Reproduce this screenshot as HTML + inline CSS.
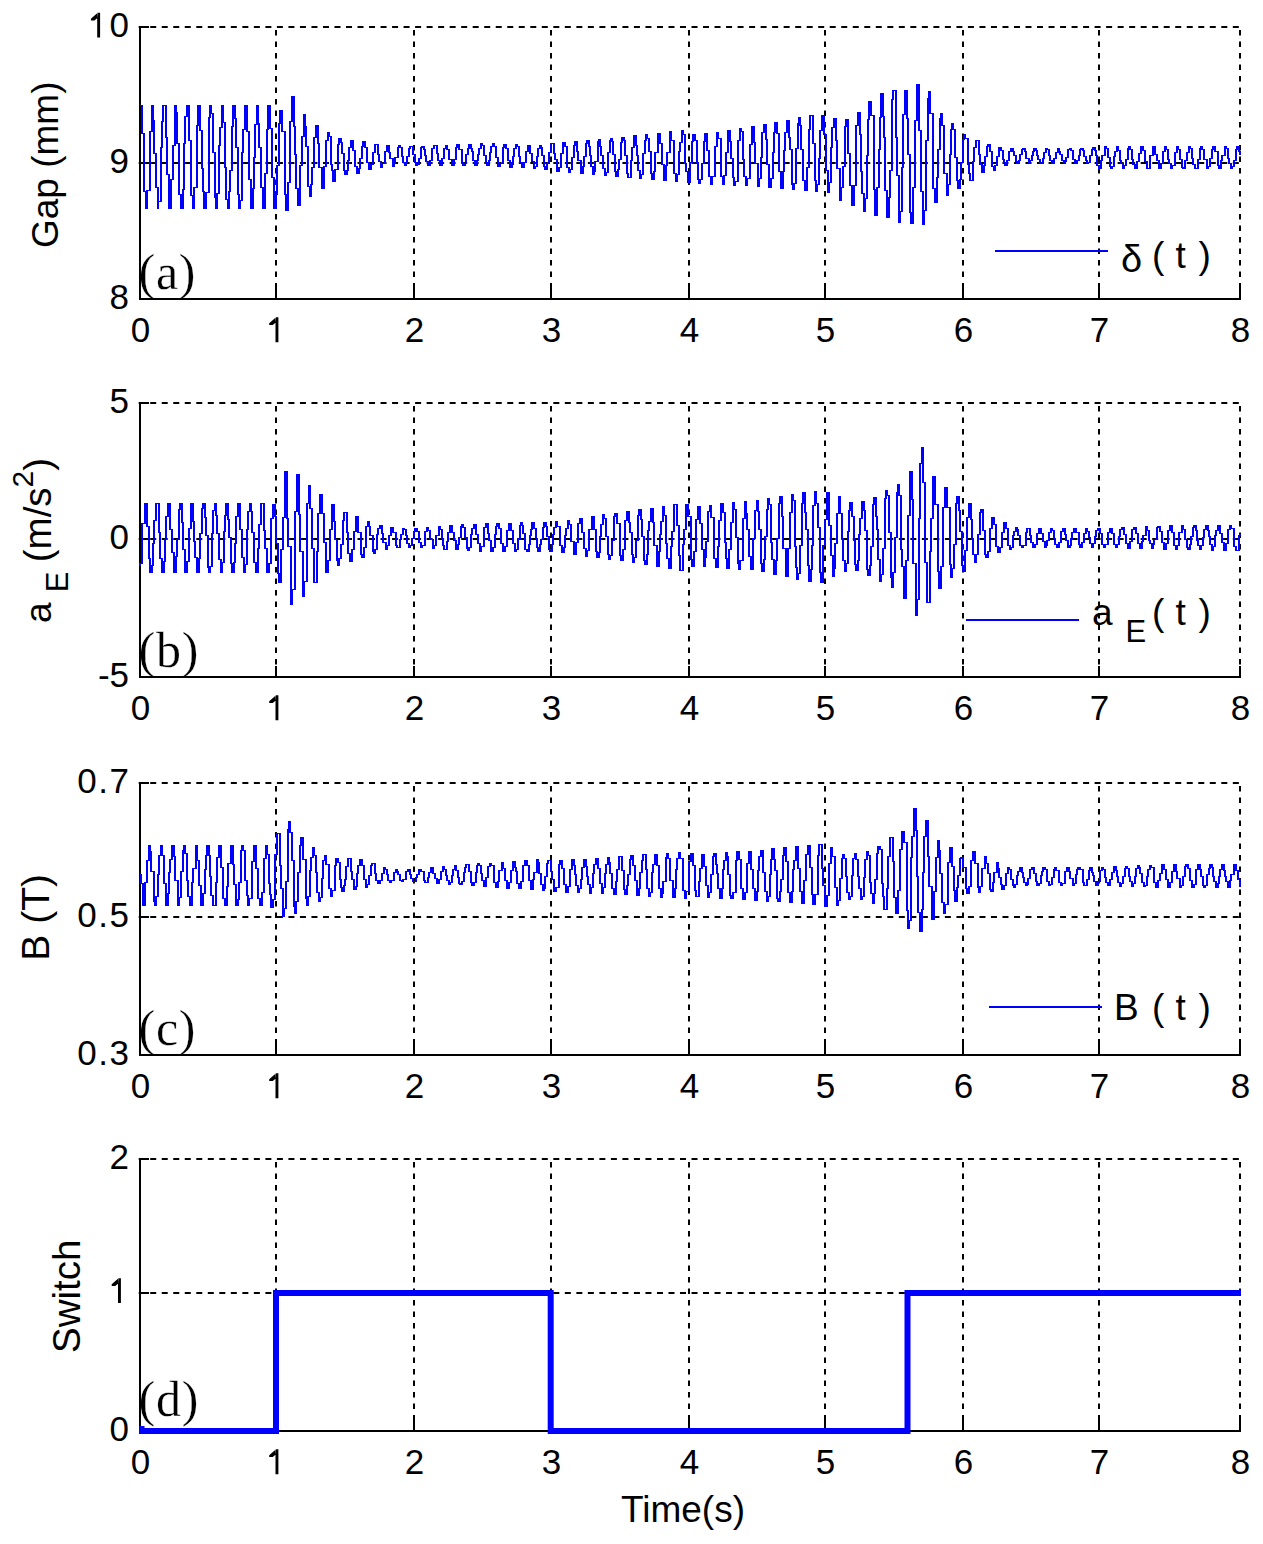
<!DOCTYPE html>
<html><head><meta charset="utf-8"><style>
html,body{margin:0;padding:0;background:#fff;overflow:hidden}
svg{display:block}
.g{stroke:#000;stroke-width:2;fill:none}
.gh{stroke-dasharray:6 5.517}
.gv{stroke-dasharray:5.6 5.9;stroke-dashoffset:8.5}
.ax{stroke:#000;stroke-width:2;fill:none}
.w{stroke:#00f;fill:none;stroke-linejoin:round;shape-rendering:crispEdges}
.tk{font-family:"Liberation Sans",sans-serif;font-size:35px;fill:#000}
.lb{font-family:"Liberation Sans",sans-serif;font-size:37px;fill:#000}
.pl{font-family:"Liberation Serif",serif;font-size:50px;fill:#000;stroke:#fff;stroke-width:0.3px}
</style></head><body>
<svg width="1263" height="1544" viewBox="0 0 1263 1544">
<rect width="1263" height="1544" fill="#fff"/>
<g><line x1="138.7" y1="27" x2="1241" y2="27" class="g gh"/><line x1="138.7" y1="163" x2="1241" y2="163" class="g gh"/><line x1="276" y1="27" x2="276" y2="299" class="g gv"/><line x1="414" y1="27" x2="414" y2="299" class="g gv"/><line x1="551" y1="27" x2="551" y2="299" class="g gv"/><line x1="689" y1="27" x2="689" y2="299" class="g gv"/><line x1="825" y1="27" x2="825" y2="299" class="g gv"/><line x1="963" y1="27" x2="963" y2="299" class="g gv"/><line x1="1099" y1="27" x2="1099" y2="299" class="g gv"/><line x1="1240" y1="27" x2="1240" y2="299" class="g gv"/></g>
<text class="pl" x="138.6" y="289" letter-spacing="0.7">(a)</text>
<path class="ax" d="M140 26 L140 299 L1241 299"/>
<path class="ax" d="M139 27 L149 27 M139 163 L149 163 M139 299 L149 299 M140 300 L140 288 M276 300 L276 288 M414 300 L414 288 M551 300 L551 288 M689 300 L689 288 M825 300 L825 288 M963 300 L963 288 M1099 300 L1099 288 M1240 300 L1240 288"/>
<text class="tk" x="140.5" y="342" text-anchor="middle">0</text>
<path d="M275.5 317.3H278.4V342.3H275.5ZM276.0 317.3L269.2 323.3V324.9H272.7L275.5 322.7Z" fill="#000"/>
<text class="tk" x="414.5" y="342" text-anchor="middle">2</text>
<text class="tk" x="551.5" y="342" text-anchor="middle">3</text>
<text class="tk" x="689.5" y="342" text-anchor="middle">4</text>
<text class="tk" x="825.5" y="342" text-anchor="middle">5</text>
<text class="tk" x="963.5" y="342" text-anchor="middle">6</text>
<text class="tk" x="1099.5" y="342" text-anchor="middle">7</text>
<text class="tk" x="1240.5" y="342" text-anchor="middle">8</text>
<path d="M97.2 12.8H100.1V37.6H97.2ZM97.7 12.8L90.9 18.8V20.4H94.4L97.2 18.2Z" fill="#000"/>
<text class="tk" x="129" y="36.7" text-anchor="end">0</text>
<text class="tk" x="129" y="172.7" text-anchor="end">9</text>
<text class="tk" x="129" y="308.7" text-anchor="end">8</text>
<g><line x1="138.7" y1="403" x2="1241" y2="403" class="g gh"/><line x1="138.7" y1="539" x2="1241" y2="539" class="g gh"/><line x1="276" y1="403" x2="276" y2="677" class="g gv"/><line x1="414" y1="403" x2="414" y2="677" class="g gv"/><line x1="551" y1="403" x2="551" y2="677" class="g gv"/><line x1="689" y1="403" x2="689" y2="677" class="g gv"/><line x1="825" y1="403" x2="825" y2="677" class="g gv"/><line x1="963" y1="403" x2="963" y2="677" class="g gv"/><line x1="1099" y1="403" x2="1099" y2="677" class="g gv"/><line x1="1240" y1="403" x2="1240" y2="677" class="g gv"/></g>
<text class="pl" x="138.6" y="667" letter-spacing="0.7">(b)</text>
<path class="ax" d="M140 402 L140 677 L1241 677"/>
<path class="ax" d="M139 403 L149 403 M139 539 L149 539 M139 677 L149 677 M140 678 L140 666 M276 678 L276 666 M414 678 L414 666 M551 678 L551 666 M689 678 L689 666 M825 678 L825 666 M963 678 L963 666 M1099 678 L1099 666 M1240 678 L1240 666"/>
<text class="tk" x="140.5" y="720" text-anchor="middle">0</text>
<path d="M275.5 695.3H278.4V720.3H275.5ZM276.0 695.3L269.2 701.3V702.9H272.7L275.5 700.7Z" fill="#000"/>
<text class="tk" x="414.5" y="720" text-anchor="middle">2</text>
<text class="tk" x="551.5" y="720" text-anchor="middle">3</text>
<text class="tk" x="689.5" y="720" text-anchor="middle">4</text>
<text class="tk" x="825.5" y="720" text-anchor="middle">5</text>
<text class="tk" x="963.5" y="720" text-anchor="middle">6</text>
<text class="tk" x="1099.5" y="720" text-anchor="middle">7</text>
<text class="tk" x="1240.5" y="720" text-anchor="middle">8</text>
<text class="tk" x="129" y="412.7" text-anchor="end">5</text>
<text class="tk" x="129" y="548.7" text-anchor="end">0</text>
<text class="tk" x="129" y="686.7" text-anchor="end">-5</text>
<g><line x1="138.7" y1="783" x2="1241" y2="783" class="g gh"/><line x1="138.7" y1="917" x2="1241" y2="917" class="g gh"/><line x1="276" y1="783" x2="276" y2="1055" class="g gv"/><line x1="414" y1="783" x2="414" y2="1055" class="g gv"/><line x1="551" y1="783" x2="551" y2="1055" class="g gv"/><line x1="689" y1="783" x2="689" y2="1055" class="g gv"/><line x1="825" y1="783" x2="825" y2="1055" class="g gv"/><line x1="963" y1="783" x2="963" y2="1055" class="g gv"/><line x1="1099" y1="783" x2="1099" y2="1055" class="g gv"/><line x1="1240" y1="783" x2="1240" y2="1055" class="g gv"/></g>
<text class="pl" x="138.6" y="1045" letter-spacing="0.7">(c)</text>
<path class="ax" d="M140 782 L140 1055 L1241 1055"/>
<path class="ax" d="M139 783 L149 783 M139 917 L149 917 M139 1055 L149 1055 M140 1056 L140 1044 M276 1056 L276 1044 M414 1056 L414 1044 M551 1056 L551 1044 M689 1056 L689 1044 M825 1056 L825 1044 M963 1056 L963 1044 M1099 1056 L1099 1044 M1240 1056 L1240 1044"/>
<text class="tk" x="140.5" y="1098" text-anchor="middle">0</text>
<path d="M275.5 1073.3H278.4V1098.3H275.5ZM276.0 1073.3L269.2 1079.3V1080.9H272.7L275.5 1078.7Z" fill="#000"/>
<text class="tk" x="414.5" y="1098" text-anchor="middle">2</text>
<text class="tk" x="551.5" y="1098" text-anchor="middle">3</text>
<text class="tk" x="689.5" y="1098" text-anchor="middle">4</text>
<text class="tk" x="825.5" y="1098" text-anchor="middle">5</text>
<text class="tk" x="963.5" y="1098" text-anchor="middle">6</text>
<text class="tk" x="1099.5" y="1098" text-anchor="middle">7</text>
<text class="tk" x="1240.5" y="1098" text-anchor="middle">8</text>
<text class="tk" x="130.5" y="792.7" text-anchor="end" letter-spacing="1.5">0.7</text>
<text class="tk" x="130.5" y="926.7" text-anchor="end" letter-spacing="1.5">0.5</text>
<text class="tk" x="130.5" y="1064.7" text-anchor="end" letter-spacing="1.5">0.3</text>
<g><line x1="138.7" y1="1159" x2="1241" y2="1159" class="g gh"/><line x1="138.7" y1="1293" x2="1241" y2="1293" class="g gh"/><line x1="276" y1="1159" x2="276" y2="1431" class="g gv"/><line x1="414" y1="1159" x2="414" y2="1431" class="g gv"/><line x1="551" y1="1159" x2="551" y2="1431" class="g gv"/><line x1="689" y1="1159" x2="689" y2="1431" class="g gv"/><line x1="825" y1="1159" x2="825" y2="1431" class="g gv"/><line x1="963" y1="1159" x2="963" y2="1431" class="g gv"/><line x1="1099" y1="1159" x2="1099" y2="1431" class="g gv"/><line x1="1240" y1="1159" x2="1240" y2="1431" class="g gv"/></g>
<text class="pl" x="138.6" y="1416" letter-spacing="0.7">(d)</text>
<path class="ax" d="M140 1158 L140 1431 L1241 1431"/>
<path class="ax" d="M139 1159 L149 1159 M139 1293 L149 1293 M139 1431 L149 1431 M140 1432 L140 1420 M276 1432 L276 1420 M414 1432 L414 1420 M551 1432 L551 1420 M689 1432 L689 1420 M825 1432 L825 1420 M963 1432 L963 1420 M1099 1432 L1099 1420 M1240 1432 L1240 1420"/>
<text class="tk" x="140.5" y="1474" text-anchor="middle">0</text>
<path d="M275.5 1449.3H278.4V1474.3H275.5ZM276.0 1449.3L269.2 1455.3V1456.9H272.7L275.5 1454.7Z" fill="#000"/>
<text class="tk" x="414.5" y="1474" text-anchor="middle">2</text>
<text class="tk" x="551.5" y="1474" text-anchor="middle">3</text>
<text class="tk" x="689.5" y="1474" text-anchor="middle">4</text>
<text class="tk" x="825.5" y="1474" text-anchor="middle">5</text>
<text class="tk" x="963.5" y="1474" text-anchor="middle">6</text>
<text class="tk" x="1099.5" y="1474" text-anchor="middle">7</text>
<text class="tk" x="1240.5" y="1474" text-anchor="middle">8</text>
<text class="tk" x="129" y="1168.7" text-anchor="end">2</text>
<path d="M118.0 1278.3H120.9V1303.0H118.0ZM118.5 1278.3L111.7 1284.3V1285.9H115.2L118.0 1283.7Z" fill="#000"/>
<text class="tk" x="129" y="1440.7" text-anchor="end">0</text>
<path class="w" transform="scale(2,1)" stroke-width="1" d="M70.0 105.5H71.0V133.5H72.0V191.5H73.0V208.5H73.5V190.5H75.0V131.5H76.0V105.5H76.5V120.5H77.0V153.5H78.0V187.5H79.0V208.5V201.5H80.5V147.5H81.0V121.5H81.5V105.5H83.0V137.5H83.5V174.5H84.5V208.5H85.5V179.5H86.5V145.5H87.5V105.5H88.0V112.5H88.5V143.5H89.5V194.5H90.5V208.5H91.5V189.5H92.0V143.5H92.5V116.5H93.5V105.5H94.5V140.5H95.5V195.5H96.5V208.5H97.0V187.5H98.5V125.5H99.0V105.5H100.0V130.5H101.0V168.5H101.5V191.5H102.0V208.5H103.0V192.5H104.5V117.5H105.0V105.5H105.5V113.5H106.5V152.5H107.5V197.5H108.0V208.5H108.5V193.5H109.5V145.5H110.0V127.5H111.0V105.5H111.5V122.5H112.5V167.5H113.0V199.5H114.0V208.5H114.5V191.5H115.0V170.5H116.0V126.5H116.5V105.5H117.5V118.5H118.0V147.5H119.0V194.5H119.5V208.5H120.0V200.5H121.0V152.5H121.5V129.5H122.5V105.5H123.5V131.5H124.5V179.5H125.5V208.5H126.5V188.5H127.0V157.5H127.5V124.5H128.5V105.5H129.0V123.5H129.5V147.5H130.5V187.5H131.5V208.5H132.5V173.5H133.5V129.5H134.0V105.5H135.0V128.5H136.0V177.5H137.0V208.5H138.0V194.5H138.5V165.5H139.5V123.5H140.0V110.5H141.0V131.5H142.5V194.5H143.0V210.5H144.0V182.5H145.0V121.5H146.0V96.5H147.0V126.5H147.5V154.5H148.0V188.5H149.0V205.5H150.0V165.5H151.0V136.5H152.0V114.5H152.5V126.5H153.0V146.5H154.0V186.5H155.0V196.5H155.5V184.5H156.0V167.5H157.0V137.5H158.0V125.5H159.0V143.5H159.5V167.5H161.0V188.5H162.0V166.5H163.0V140.5H164.0V132.5H164.5V136.5H165.5V164.5H166.0V170.5H166.5V181.5H167.5V169.5H169.0V144.5H169.5V138.5H170.5V142.5H171.0V153.5H172.0V170.5H172.5V174.5H173.5V170.5H174.0V160.5H174.5V147.5H175.5V140.5H176.5V150.5H177.5V166.5H178.5V173.5H179.5V168.5H180.0V158.5H181.0V146.5H181.5V141.5H182.5V147.5H183.5V162.5H184.5V169.5H185.5V164.5H186.5V152.5H187.5V144.5H189.0V154.5H189.5V161.5H190.5V167.5H191.0V163.5H192.5V151.5H193.5V145.5H194.5V152.5H195.0V158.5H196.5V166.5H197.0V163.5H197.5V157.5H199.0V147.5H199.5V145.5H200.0V147.5H201.0V156.5H201.5V162.5H202.5V165.5H203.0V162.5H203.5V156.5H204.5V148.5H205.0V146.5H206.5V154.5H207.5V162.5H208.0V165.5H208.5V164.5H209.5V158.5H210.5V147.5H211.0V146.5H212.0V149.5H212.5V155.5H213.0V161.5H214.0V165.5H215.0V160.5H216.0V148.5H217.0V145.5H218.5V153.5H219.0V160.5H220.0V165.5H221.0V158.5H222.0V148.5H223.0V145.5H223.5V149.5H224.5V159.5H226.0V165.5H227.0V159.5H228.0V147.5H228.5V144.5H229.5V149.5H231.0V162.5H231.5V165.5H232.5V163.5H233.0V154.5H234.0V148.5H234.5V144.5H235.5V148.5H236.0V151.5H236.5V160.5H237.5V165.5H238.5V160.5H239.0V154.5H239.5V148.5H240.5V143.5H241.0V145.5H242.0V155.5H243.0V163.5H243.5V165.5H244.5V160.5H245.0V152.5H245.5V146.5H246.5V143.5H247.0V146.5H248.0V157.5H249.0V166.5H250.0V163.5H251.5V147.5H252.0V144.5H253.0V148.5H254.0V160.5H255.0V167.5H256.0V164.5H256.5V156.5H257.0V148.5H258.0V144.5H258.5V146.5H259.5V156.5H260.0V162.5H261.0V167.5H262.0V162.5H263.0V151.5H264.0V145.5H265.0V153.5H266.0V161.5H267.0V168.5H267.5V166.5H268.5V156.5H269.0V148.5H270.0V145.5H270.5V147.5H271.0V155.5H272.0V166.5H272.5V169.5H273.5V163.5H274.5V152.5H275.5V143.5H277.0V153.5H277.5V159.5H278.5V171.5H279.5V167.5H280.5V153.5H281.5V142.5H282.5V146.5H283.5V167.5H284.5V172.5H285.0V169.5H286.0V157.5H287.0V145.5H287.5V141.5H288.5V151.5H289.0V160.5H290.5V173.5H291.5V166.5H292.0V156.5H293.0V143.5H293.5V140.5H294.5V146.5H295.0V155.5H295.5V166.5H296.5V174.5H297.0V171.5H297.5V161.5H299.0V141.5H299.5V139.5H300.0V146.5H300.5V155.5H301.5V168.5H302.5V175.5H303.0V172.5H304.0V152.5H305.0V140.5H305.5V138.5H306.0V141.5H306.5V154.5H307.5V171.5H308.0V176.5H309.0V169.5H309.5V159.5H310.5V142.5H311.0V137.5H312.0V140.5H312.5V155.5H313.5V173.5H314.0V177.5H315.5V160.5H316.0V147.5H317.0V135.5H318.0V145.5H318.5V155.5H319.0V170.5H320.0V178.5H320.5V174.5H321.5V153.5H322.5V140.5H323.0V134.5H323.5V138.5H324.5V151.5H325.5V173.5H326.0V179.5H327.0V171.5H327.5V152.5H329.0V133.5H330.0V143.5H331.0V164.5H332.0V180.5H333.0V165.5H333.5V152.5H335.0V131.5H335.5V140.5H337.0V173.5H338.0V181.5H338.5V174.5H339.5V151.5H340.0V142.5H341.0V130.5H341.5V134.5H342.5V163.5H343.0V171.5H344.0V182.5H345.0V162.5H346.0V141.5H346.5V134.5H347.5V140.5H348.5V162.5H349.0V179.5H349.5V183.5H350.0V179.5H351.0V163.5H352.0V141.5H352.5V133.5H353.5V150.5H354.5V176.5H355.5V184.5H356.0V176.5H357.5V146.5H358.5V132.5H359.0V138.5H360.5V176.5H361.5V184.5H362.0V175.5H363.0V152.5H364.0V130.5H365.0V141.5H365.5V158.5H366.5V177.5H367.0V185.5H367.5V181.5H369.0V151.5V140.5H370.0V128.5H370.5V131.5H371.5V159.5H372.0V176.5H373.0V185.5H373.5V178.5H375.0V144.5H376.0V126.5H377.0V142.5H377.5V163.5H379.0V186.5H379.5V178.5H380.5V157.5H381.0V132.5H382.0V124.5H383.0V139.5H383.5V164.5H384.5V187.5H385.5V178.5H386.5V152.5H387.0V132.5H387.5V122.5H388.5V133.5H389.5V171.5H390.5V188.5H391.5V171.5H392.0V150.5H392.5V132.5H393.5V120.5H394.5V137.5H395.0V149.5H396.0V184.5H396.5V189.5H397.0V183.5H398.0V148.5H399.0V123.5H399.5V117.5H400.0V125.5H400.5V149.5H401.5V180.5H402.5V190.5H403.5V167.5H404.5V129.5H405.0V115.5H406.5V143.5H407.5V180.5H408.0V191.5H408.5V184.5H409.5V158.5H410.0V130.5H411.0V115.5H412.0V134.5H413.0V170.5H414.0V192.5H414.5V182.5H415.5V147.5H416.0V127.5H417.0V118.5H418.0V140.5H418.5V168.5H420.0V200.5H420.5V187.5H421.5V166.5H422.5V126.5H423.0V119.5H424.0V153.5H425.0V185.5H426.0V205.5H427.0V185.5H428.0V125.5H429.0V112.5H430.0V134.5H430.5V171.5H431.0V193.5H432.0V211.5H432.5V198.5H433.5V155.5H434.0V119.5H434.5V101.5H435.5V115.5H437.0V189.5H437.5V215.5H438.5V187.5H439.5V149.5H440.0V117.5H440.5V93.5H441.5V116.5H442.0V137.5H442.5V190.5H443.5V217.5H444.5V197.5H445.0V170.5H446.0V99.5H446.5V90.5H448.0V137.5H448.5V175.5H449.5V222.5H450.0V211.5H451.0V167.5H451.5V114.5H452.5V90.5H453.5V118.5H454.0V154.5H455.0V212.5H455.5V223.5H456.5V187.5H457.5V120.5H458.5V84.5H459.5V130.5H460.5V191.5H461.5V224.5H462.0V210.5H463.0V140.5H464.0V98.5H464.5V91.5H465.0V113.5H466.5V188.5H467.5V202.5H468.5V177.5H469.0V149.5H470.0V118.5H470.5V113.5H471.0V125.5H472.0V173.5H473.5V195.5H474.0V184.5H475.0V154.5H475.5V129.5H476.0V123.5H476.5V129.5H477.5V157.5H478.5V180.5H479.0V188.5H480.0V179.5H480.5V162.5H481.5V139.5H482.0V134.5H482.5V138.5H484.0V164.5H484.5V173.5H485.0V180.5H486.5V161.5H487.0V147.5H488.0V140.5H489.5V154.5H490.0V164.5H491.0V172.5H492.0V165.5H492.5V156.5H493.5V146.5H494.0V144.5H495.0V151.5H496.0V166.5H497.0V170.5H497.5V165.5H498.5V156.5H499.5V147.5H500.5V150.5H501.5V159.5H502.0V162.5H502.5V165.5H503.5V160.5H504.5V151.5H505.5V148.5H506.5V151.5H507.0V155.5H508.0V161.5H508.5V163.5H509.5V160.5H510.0V154.5H511.0V149.5H511.5V148.5H512.5V151.5H513.0V158.5H514.5V163.5H515.0V160.5H516.0V155.5H516.5V151.5H517.0V148.5H518.0V150.5H518.5V155.5H519.0V159.5H520.0V163.5H521.5V158.5H522.0V152.5H523.0V148.5H523.5V149.5H524.5V155.5H525.0V160.5H526.0V163.5H527.0V158.5H528.0V152.5H529.0V148.5H529.5V151.5H530.0V154.5H531.0V160.5H532.0V163.5H532.5V161.5H533.0V157.5H534.0V149.5H535.0V148.5H535.5V150.5H536.5V156.5V159.5H537.5V163.5H538.5V160.5H539.5V155.5H540.0V149.5H540.5V148.5H541.5V150.5H542.0V156.5H543.0V160.5H543.5V163.5H544.0V162.5H545.0V155.5H546.0V149.5H546.5V147.5H547.5V150.5H548.0V155.5H548.5V165.5H549.5V168.5H550.5V160.5H551.0V155.5H552.5V146.5H553.0V148.5H554.0V157.5H555.0V166.5H555.5V168.5H556.0V166.5H557.0V156.5H557.5V151.5H558.5V146.5H559.0V150.5H560.0V160.5H560.5V163.5H561.5V168.5H562.0V165.5H563.0V159.5H564.0V148.5H564.5V146.5H565.0V149.5H566.0V159.5H566.5V164.5H567.5V168.5H568.5V161.5H569.5V153.5H570.5V146.5H571.5V150.5H572.5V161.5H573.5V168.5H575.0V159.5V155.5H576.5V146.5H577.5V154.5H578.5V160.5H579.5V168.5H580.5V163.5H581.5V151.5H582.5V146.5H583.0V149.5H584.0V159.5H584.5V163.5H585.5V168.5H586.0V165.5H587.5V152.5H588.5V146.5H589.0V149.5H590.0V159.5H591.0V167.5H591.5V168.5H592.5V160.5H593.5V152.5H594.5V146.5H595.0V148.5H596.0V158.5H596.5V164.5H597.5V168.5H599.0V159.5H600.0V148.5H600.5V146.5H601.0V149.5H602.0V159.5H603.5V168.5H604.0V166.5H605.0V158.5H606.0V149.5H606.5V146.5H607.5V151.5H609.0V165.5H609.5V168.5H610.5V160.5H611.0V155.5H612.5V146.5H613.0V148.5H614.0V158.5H614.5V163.5H615.5V168.5H616.0V166.5H617.0V160.5H618.0V149.5H618.5V146.5H619.5V151.5H620.0V154.5"/>
<path class="w" transform="scale(2,1)" stroke-width="1" d="M70.0 565.5V563.5H71.0V523.5H72.5V503.5H73.5V526.5H74.5V558.5H75.0V572.5H76.0V565.5H76.5V543.5H77.0V520.5H78.0V503.5H79.5V532.5H80.0V558.5H81.0V572.5H82.0V561.5H82.5V539.5H83.0V516.5H84.0V503.5H85.0V529.5H86.0V552.5H87.0V572.5H88.0V556.5H88.5V539.5H89.5V509.5H90.0V503.5H91.0V522.5H91.5V549.5H92.5V572.5H93.5V561.5H94.5V528.5H95.5V503.5H96.5V521.5H97.0V541.5H97.5V557.5H98.5V572.5H99.5V558.5H100.0V533.5H101.0V508.5H101.5V503.5H102.5V517.5H103.0V535.5H104.0V567.5H104.5V572.5H105.0V566.5H106.0V533.5H106.5V510.5H107.5V503.5H108.0V515.5H108.5V533.5H109.5V559.5H110.5V572.5H111.0V562.5H112.0V531.5H112.5V515.5H113.0V503.5H114.0V519.5H114.5V537.5H115.5V563.5H116.0V572.5H117.0V562.5H117.5V543.5H118.0V516.5H119.0V503.5H120.0V529.5H121.0V557.5H122.0V572.5H122.5V564.5H123.5V529.5H124.0V511.5H125.0V503.5H125.5V511.5H126.0V532.5H127.0V562.5H128.0V572.5H129.0V548.5H129.5V524.5H130.5V503.5H132.0V530.5H132.5V548.5H133.5V572.5H134.5V563.5H135.5V518.5H136.5V504.5H137.5V516.5H138.0V543.5H139.0V573.5H139.5V582.5H140.5V549.5H141.5V517.5H142.5V471.5H143.5V518.5H144.0V546.5H145.5V604.5H146.0V589.5H147.5V511.5H148.5V474.5H149.5V514.5H150.0V551.5H151.5V596.5H152.0V581.5H153.5V503.5H154.5V485.5H155.0V508.5H156.0V548.5H157.0V582.5H158.5V551.5H159.0V513.5H160.0V494.5H161.0V513.5H162.0V542.5H163.0V572.5H164.0V560.5H165.0V529.5H166.0V504.5H167.0V521.5H167.5V539.5H168.5V560.5H169.0V565.5H169.5V558.5H170.5V544.5H171.5V520.5H172.0V512.5H173.5V532.5H174.0V553.5H175.0V561.5H176.0V549.5H177.0V531.5H178.0V516.5H179.0V526.5V532.5H180.5V554.5H181.0V557.5H182.0V547.5H183.0V526.5H184.0V521.5H184.5V526.5H185.0V535.5H186.5V551.5H187.0V553.5H187.5V549.5H188.5V534.5H189.0V528.5H190.0V525.5H191.0V533.5H191.5V542.5H193.0V549.5H193.5V545.5H194.5V535.5H195.5V527.5H196.5V532.5H198.0V545.5H198.5V547.5H200.0V539.5H200.5V534.5H201.5V528.5H202.0V529.5H203.0V535.5H203.5V543.5H204.5V547.5H205.0V545.5H206.0V538.5H207.0V531.5H207.5V528.5H208.5V531.5H209.5V542.5H210.5V547.5H211.0V545.5H212.5V531.5H213.5V527.5H214.0V530.5H215.0V539.5H216.5V548.5H217.0V545.5H218.0V535.5H219.5V526.5H220.0V529.5H221.0V538.5H221.5V545.5H222.0V549.5H223.5V541.5H224.0V532.5H225.0V525.5H226.0V532.5H227.0V540.5H228.0V549.5H229.0V544.5H229.5V537.5H230.5V526.5H231.0V524.5H231.5V527.5H232.5V537.5H233.5V548.5H234.0V550.5H234.5V547.5H235.5V534.5H236.0V528.5H237.0V524.5H238.0V534.5H239.0V543.5H240.0V551.5H240.5V546.5H242.0V527.5H243.0V523.5H244.0V533.5H244.5V540.5H245.5V551.5H246.5V547.5H247.5V534.5H248.0V526.5H248.5V523.5H249.5V528.5H250.5V543.5H251.5V551.5H252.5V546.5H253.5V530.5H254.5V523.5H255.5V530.5H256.5V543.5H257.5V551.5H258.0V549.5H259.0V538.5H260.0V525.5H260.5V522.5H261.0V525.5H261.5V533.5H262.5V549.5H263.5V551.5H264.5V544.5H265.0V535.5H265.5V529.5H266.0V522.5H267.0V528.5H268.0V538.5H268.5V547.5H269.0V551.5H270.0V544.5H270.5V539.5H271.5V527.5H272.0V522.5H273.0V526.5H273.5V536.5H274.5V549.5H275.0V551.5H276.0V544.5H276.5V534.5H277.0V527.5H278.0V521.5H278.5V526.5H280.0V545.5H281.0V552.5H282.0V547.5H282.5V535.5H283.0V528.5H284.0V520.5H284.5V524.5H285.5V541.5H287.0V554.5H288.0V542.5H289.0V523.5H290.0V518.5H291.0V532.5H292.0V548.5H293.0V556.5H293.5V550.5H294.5V529.5H296.0V516.5H297.0V529.5H298.0V551.5H298.5V557.5H299.5V552.5H300.0V536.5H300.5V524.5H301.5V514.5H302.0V518.5H303.0V536.5H304.0V554.5H304.5V559.5H305.0V555.5H306.0V540.5H307.0V516.5H307.5V513.5H308.5V523.5H310.0V555.5H310.5V560.5H311.5V549.5H312.5V520.5H313.5V511.5H314.5V522.5H315.0V532.5H316.0V554.5H316.5V562.5H317.0V557.5H318.0V540.5H319.0V515.5H319.5V509.5H320.5V519.5H321.0V536.5H322.0V560.5H322.5V564.5H323.5V554.5H324.0V530.5H324.5V521.5H325.5V508.5H326.5V522.5H327.0V545.5H328.5V566.5H329.5V551.5H330.0V534.5H330.5V521.5H331.5V506.5H332.0V515.5H333.0V543.5H333.5V558.5H334.5V568.5H335.5V546.5H336.0V531.5H337.0V504.5H338.5V525.5H339.5V555.5H340.0V570.5H341.5V544.5H342.0V529.5H343.0V504.5H344.0V516.5H345.5V559.5H346.0V566.5H347.0V551.5H348.0V519.5H349.0V506.5H350.0V523.5H351.0V549.5H352.0V566.5H352.5V557.5H353.0V541.5H354.0V511.5H355.0V505.5H355.5V517.5H357.0V558.5H358.0V567.5H359.0V546.5H359.5V520.5H360.5V503.5H361.5V512.5H362.5V542.5H363.0V558.5H363.5V568.5H364.5V549.5H365.5V522.5H366.5V502.5H367.0V509.5H368.0V537.5H369.0V563.5H369.5V569.5H370.0V560.5H371.5V518.5H372.5V501.5H373.0V513.5H373.5V529.5H374.5V556.5H375.5V569.5H376.5V552.5V538.5H377.5V510.5H378.5V500.5H379.0V511.5H379.5V529.5H380.5V563.5H381.0V571.5H382.0V559.5H382.5V536.5H383.5V509.5H384.0V498.5H384.5V504.5H385.5V542.5H386.0V559.5H387.0V574.5H388.0V560.5H388.5V538.5H389.5V503.5H390.0V496.5H391.0V516.5H391.5V548.5H393.0V576.5H394.0V548.5H395.0V512.5H396.0V494.5H396.5V500.5H397.5V546.5H398.0V567.5H398.5V579.5H399.0V573.5H400.0V545.5H401.0V503.5H401.5V492.5H402.5V512.5H403.0V529.5H404.0V565.5H404.5V581.5H405.5V569.5H406.0V545.5H406.5V505.5H407.5V491.5H408.0V503.5H409.0V527.5H410.0V572.5H410.5V582.5H411.5V545.5H412.5V519.5H413.5V492.5H414.5V525.5H415.5V555.5H416.5V576.5H417.0V568.5H417.5V543.5H418.5V513.5H419.5V496.5H420.0V513.5H421.0V538.5H421.5V560.5H422.5V571.5H423.0V563.5H424.0V531.5H424.5V510.5H425.0V502.5H426.0V516.5H427.0V540.5H427.5V564.5H428.0V570.5H429.0V560.5H429.5V534.5H430.0V518.5H431.0V501.5H432.0V510.5H432.5V530.5H433.5V569.5H434.0V575.5H435.0V565.5H435.5V546.5H436.5V504.5H437.0V497.5H438.0V516.5H438.5V529.5H439.0V559.5H440.0V581.5H440.5V574.5H441.5V548.5H442.5V498.5H443.0V490.5H443.5V495.5H444.5V532.5H445.5V577.5H446.0V587.5H446.5V572.5H447.5V537.5H448.5V492.5H449.0V484.5H449.5V495.5H450.5V549.5H451.0V566.5H452.0V598.5H453.0V560.5H454.0V515.5H455.0V471.5H456.0V499.5H456.5V563.5H458.0V615.5H458.5V599.5H459.5V518.5H460.0V463.5H461.0V447.5H461.5V482.5H462.5V562.5H463.5V602.5H465.0V551.5H465.5V518.5H466.5V476.5H467.5V504.5H469.0V571.5H469.5V588.5H470.5V566.5H471.5V507.5H472.5V487.5H473.5V507.5H475.0V564.5H475.5V577.5H476.0V568.5H477.0V544.5H478.0V503.5H478.5V496.5H479.5V510.5H480.0V531.5H481.0V565.5H481.5V571.5H482.5V550.5H483.5V517.5H484.5V503.5H485.5V519.5H486.0V539.5H486.5V554.5H487.5V562.5H488.0V554.5H489.0V534.5H490.0V512.5H490.5V509.5H491.5V523.5V530.5H492.5V554.5H493.0V557.5H494.0V551.5H495.0V528.5H496.0V517.5H497.0V524.5H498.0V546.5H499.0V552.5H500.0V547.5H501.0V532.5H502.0V522.5H503.0V528.5H504.0V545.5H505.0V549.5H505.5V547.5H506.5V535.5H507.0V531.5H508.0V527.5H508.5V529.5H509.0V535.5H510.0V545.5H511.0V547.5H511.5V545.5H513.0V532.5H513.5V528.5H515.0V535.5H515.5V542.5H516.5V547.5H517.5V544.5H518.5V533.5H519.5V528.5H520.5V533.5H521.5V541.5H522.5V547.5H523.0V545.5H523.5V540.5H524.5V532.5H525.5V528.5H526.0V530.5H527.0V538.5H527.5V544.5H528.5V547.5H529.5V542.5H530.5V531.5H531.5V528.5H532.5V534.5H533.0V540.5H534.0V547.5H535.0V545.5H535.5V538.5H536.0V532.5H537.0V528.5H538.0V532.5H539.5V544.5H540.0V547.5H541.0V542.5H542.0V533.5H543.0V528.5H543.5V531.5H544.5V537.5H545.0V543.5H546.0V547.5H546.5V543.5H547.5V536.5H548.0V530.5H549.0V528.5H550.0V533.5H551.0V544.5H552.0V547.5H552.5V544.5H554.0V532.5H555.0V528.5H556.0V533.5H557.0V544.5H558.0V547.5H558.5V544.5H559.5V536.5H560.0V529.5H561.0V527.5H562.0V534.5H563.0V543.5H564.0V548.5H565.0V541.5H566.0V529.5H567.0V527.5H568.0V533.5H569.0V543.5H570.0V548.5H571.0V541.5H571.5V535.5H573.0V526.5H573.5V530.5H574.5V540.5H575.0V543.5H576.0V548.5H576.5V544.5H577.0V539.5H578.5V527.5H579.0V526.5H580.0V531.5H581.0V542.5H582.0V549.5H583.0V543.5H584.0V530.5H585.0V525.5H586.0V532.5H587.0V545.5H588.0V549.5H588.5V545.5H589.5V532.5H591.0V525.5H591.5V529.5H592.5V539.5H593.5V547.5H594.0V549.5H595.0V544.5H595.5V536.5H596.5V527.5H597.0V525.5H598.0V530.5H598.5V540.5H599.0V545.5H600.0V549.5H600.5V545.5H601.5V537.5H602.0V529.5H603.0V525.5H604.0V530.5H604.5V536.5H605.0V544.5H606.0V550.5H606.5V546.5H607.5V535.5H608.0V530.5H609.0V525.5H610.0V533.5H611.0V542.5H612.0V550.5H613.0V543.5H614.0V529.5H615.0V525.5H615.5V528.5H617.0V546.5H618.0V550.5H619.5V540.5V535.5H620.0V533.5"/>
<path class="w" transform="scale(2,1)" stroke-width="1" d="M70.0 874.5H70.5V883.5H71.5V905.5H72.5V895.5V882.5H73.5V860.5H74.5V845.5H75.0V851.5H75.5V871.5H77.0V901.5H77.5V905.5H78.0V896.5H79.0V874.5H79.5V855.5H80.5V845.5H81.0V855.5H82.0V883.5H83.0V905.5H84.0V893.5H84.5V872.5H85.0V859.5H86.0V845.5H87.0V856.5H87.5V880.5H89.0V905.5H89.5V897.5H90.5V871.5H91.5V850.5H92.0V845.5H92.5V853.5H93.5V880.5H94.0V896.5H95.0V905.5H96.0V882.5H96.5V868.5H98.0V845.5H98.5V860.5H99.5V885.5H100.5V905.5H101.5V893.5H102.5V869.5H103.0V855.5H103.5V845.5H104.5V855.5H105.0V876.5H105.5V895.5H106.5V905.5H108.0V882.5H108.5V857.5H109.5V845.5H110.5V867.5H111.5V898.5H112.5V905.5H113.5V886.5H114.0V863.5H115.5V845.5H116.5V864.5H117.0V884.5H118.0V905.5H119.0V899.5H119.5V882.5H120.5V850.5H121.0V845.5H121.5V850.5H122.5V880.5H123.5V895.5H124.0V905.5H124.5V898.5H126.0V861.5H127.0V845.5H128.0V859.5V868.5H129.0V898.5H130.0V905.5H131.0V892.5H132.0V858.5H133.0V845.5H133.5V854.5H134.5V883.5H135.0V894.5H135.5V907.5H136.5V899.5H137.5V854.5H138.5V833.5H140.0V865.5H140.5V888.5H141.5V916.5H142.0V908.5H143.0V881.5H144.0V829.5H144.5V821.5H145.0V832.5H146.0V860.5H147.0V906.5H147.5V913.5H148.0V901.5H149.0V872.5H150.0V845.5H150.5V837.5H151.5V859.5H153.0V898.5H153.5V905.5H154.0V896.5H155.0V870.5H155.5V857.5H156.5V847.5H157.0V855.5H158.0V872.5H158.5V892.5H159.5V901.5H160.0V897.5H161.0V878.5H161.5V860.5H162.5V855.5H163.0V864.5H164.5V888.5H165.5V896.5H166.0V890.5H167.5V865.5H168.0V858.5H169.0V862.5H170.0V879.5H170.5V887.5H171.0V891.5H172.0V885.5H172.5V879.5H173.0V866.5H174.0V858.5H175.5V871.5H176.0V879.5H177.0V889.5H178.0V886.5H178.5V873.5H179.0V865.5H180.0V859.5H181.0V865.5H182.0V879.5H183.0V887.5H183.5V884.5H184.5V875.5H185.5V865.5H186.0V863.5H187.5V873.5H188.0V880.5H189.0V883.5H190.0V880.5H191.0V873.5H192.0V867.5H192.5V869.5H193.5V874.5H194.0V880.5H195.0V882.5H195.5V880.5H197.0V872.5H198.0V869.5H198.5V871.5H199.0V874.5H200.0V880.5H201.0V881.5H201.5V879.5H203.0V871.5H204.0V869.5H205.0V874.5H205.5V878.5H206.5V881.5H208.0V877.5H208.5V874.5H209.5V869.5H210.5V871.5H212.0V880.5H212.5V882.5H214.0V877.5H214.5V872.5H215.5V867.5H216.5V873.5H217.5V878.5H218.5V883.5H219.5V879.5H220.5V871.5H221.5V866.5H222.0V869.5H223.0V875.5H223.5V880.5H224.5V884.5H225.0V882.5H226.0V875.5H226.5V869.5H227.5V865.5H228.0V870.5H229.0V877.5H229.5V883.5H230.0V884.5H231.0V881.5H232.0V872.5H232.5V867.5H233.0V864.5H234.5V871.5H235.5V882.5H236.0V885.5H237.0V882.5H238.0V872.5H238.5V865.5H239.0V863.5H239.5V865.5H240.5V873.5H241.0V880.5H242.0V886.5H243.0V877.5H244.0V866.5H245.0V863.5H245.5V865.5H247.0V882.5H248.0V887.5H249.0V881.5H249.5V870.5H251.0V862.5H251.5V868.5H252.5V880.5H253.5V888.5H254.5V882.5H255.5V870.5H256.5V861.5H257.5V867.5H258.0V871.5H258.5V883.5H259.5V888.5H260.5V881.5H261.5V865.5H262.5V860.5H263.5V865.5H264.5V880.5H265.5V889.5H266.5V879.5H267.0V872.5H268.5V859.5H269.0V862.5H269.5V873.5H270.5V884.5H271.5V890.5H272.0V888.5H272.5V876.5H273.5V863.5H274.0V860.5H275.5V871.5H276.0V879.5H277.0V891.5H278.0V887.5H279.5V864.5H280.0V860.5H281.0V868.5H282.0V884.5H283.0V892.5H284.0V886.5H285.0V869.5H286.0V859.5H287.0V865.5H287.5V874.5H288.0V885.5H289.0V892.5H289.5V888.5H290.5V879.5H291.0V867.5H292.0V859.5H293.0V866.5H293.5V876.5H294.0V884.5H295.0V893.5H295.5V887.5H296.5V873.5H297.0V864.5H298.0V858.5H299.0V868.5H300.0V883.5H301.0V893.5H301.5V887.5H302.5V873.5H303.0V864.5H304.0V857.5H304.5V862.5H305.0V873.5H306.0V888.5H307.0V894.5H308.0V881.5H308.5V869.5H309.5V856.5H311.0V870.5H312.0V889.5H312.5V894.5H313.5V885.5H314.0V874.5H315.0V859.5H315.5V855.5H316.5V865.5H317.5V880.5H318.5V895.5H319.5V888.5H320.0V872.5H321.0V860.5H321.5V854.5H323.0V869.5H323.5V888.5H324.5V896.5H325.0V892.5H326.0V872.5H326.5V864.5H327.5V854.5H328.5V865.5H329.5V888.5H330.5V897.5H331.0V893.5H331.5V881.5H333.0V857.5H333.5V853.5H334.0V858.5H335.0V880.5H336.5V897.5H337.5V888.5H338.0V869.5H338.5V858.5H339.5V852.5H340.0V858.5H341.5V890.5H342.5V898.5H343.0V891.5H344.5V861.5H345.5V853.5H346.5V865.5H347.5V890.5H348.0V896.5H349.5V881.5H350.0V868.5H351.0V854.5H352.0V866.5H353.0V885.5H354.0V897.5H354.5V892.5H355.5V874.5H356.5V856.5H357.0V853.5H358.0V864.5H358.5V873.5H359.0V888.5H360.0V898.5H361.0V888.5H361.5V869.5H362.0V860.5H363.0V852.5H363.5V856.5H364.0V874.5H365.0V895.5H365.5V898.5H366.5V892.5H368.0V860.5H368.5V851.5H369.5V859.5H370.5V880.5V888.5H371.5V899.5H372.5V892.5H373.5V863.5H374.5V851.5H375.5V869.5H376.5V888.5H377.5V900.5H378.5V891.5H379.0V870.5H379.5V856.5H380.5V850.5H381.5V861.5V872.5H382.5V891.5H383.5V901.5H384.0V896.5H385.0V874.5H385.5V859.5H386.0V848.5H387.0V859.5H387.5V870.5H388.5V898.5H389.0V901.5H390.0V891.5H390.5V879.5H391.5V855.5H392.0V847.5H393.0V861.5H394.0V892.5H395.0V902.5H396.0V891.5H396.5V869.5H397.0V860.5H398.0V846.5H399.0V868.5H400.0V891.5H401.0V903.5H402.0V880.5H403.0V854.5H404.0V845.5H405.0V867.5H406.0V894.5H406.5V904.5H407.5V894.5H409.0V855.5H409.5V844.5H411.0V868.5H411.5V885.5H412.5V906.5H413.5V895.5H414.5V863.5H415.5V847.5H416.0V856.5H417.5V887.5H418.5V905.5H419.0V900.5H420.0V878.5H421.0V858.5H421.5V854.5H422.0V858.5H423.0V876.5H423.5V892.5H424.5V899.5H425.0V896.5H426.0V875.5H426.5V858.5H427.5V853.5H428.0V859.5H429.0V876.5H429.5V888.5H430.5V899.5H431.0V896.5H432.0V877.5H432.5V859.5H433.5V851.5H434.0V855.5H435.0V882.5H435.5V893.5H436.5V903.5H437.0V893.5H437.5V879.5H438.5V853.5H439.0V846.5H440.0V849.5H441.0V883.5H441.5V896.5H442.0V909.5H443.5V888.5H444.0V856.5H445.0V837.5H446.5V861.5H447.0V897.5H448.0V913.5H449.0V890.5H450.0V849.5H451.0V831.5H452.0V842.5H453.5V910.5H454.0V928.5H454.5V920.5H455.5V857.5H456.0V836.5H457.0V808.5H458.0V830.5H458.5V876.5H459.0V912.5H460.0V931.5H461.0V909.5H461.5V872.5H462.0V836.5H463.0V820.5H464.0V856.5H464.5V886.5H466.0V919.5H467.0V891.5H468.0V857.5H469.0V840.5H469.5V850.5H470.0V873.5H471.0V902.5H472.0V913.5H472.5V904.5H474.0V862.5H475.0V847.5H476.0V866.5H477.0V890.5H477.5V901.5H478.5V887.5H479.0V875.5H480.0V858.5H480.5V857.5H481.5V867.5H483.0V888.5H483.5V893.5H484.5V886.5H485.5V860.5H486.5V851.5H487.5V863.5H489.0V887.5H489.5V892.5H490.0V886.5H491.0V868.5H492.5V856.5H493.0V863.5H494.0V873.5H495.0V889.5H495.5V891.5H496.5V882.5H497.0V872.5H498.5V862.5H499.0V868.5H499.5V877.5H500.5V884.5H501.0V889.5H502.0V885.5H503.0V873.5H504.0V867.5H504.5V869.5H505.5V879.5H506.5V885.5H507.0V887.5H507.5V884.5H508.5V875.5H509.0V871.5H510.0V867.5H511.0V872.5H511.5V877.5H512.0V882.5H513.0V885.5H513.5V884.5H514.0V878.5H515.0V869.5H516.0V867.5H517.0V873.5H518.0V881.5H518.5V885.5H519.5V883.5H520.5V875.5H521.0V871.5H521.5V867.5H522.5V869.5H523.5V881.5H524.5V885.5H525.0V884.5H526.0V877.5H527.0V869.5H527.5V867.5H528.0V870.5H529.5V882.5H530.5V885.5H531.0V883.5H532.5V871.5H533.5V867.5H534.5V871.5H535.0V878.5H536.5V885.5H537.0V883.5H538.0V874.5H538.5V869.5H539.0V867.5H540.0V869.5H541.5V882.5H542.0V885.5H543.5V879.5H544.5V870.5H545.0V867.5H546.0V872.5H546.5V875.5H547.0V881.5H548.0V885.5H549.0V881.5H550.0V870.5H551.0V867.5H551.5V869.5H552.5V877.5H553.0V882.5H554.0V885.5H555.0V879.5H556.0V872.5H557.0V866.5H558.0V870.5H558.5V876.5H559.0V882.5H560.0V886.5H560.5V883.5H561.5V876.5H562.5V868.5H563.0V866.5H563.5V868.5H564.5V876.5H565.0V881.5H566.0V886.5H566.5V883.5H567.5V876.5H568.0V868.5H569.0V865.5H569.5V867.5H570.0V873.5H571.0V882.5H572.0V886.5H572.5V885.5H573.5V876.5H574.0V869.5H575.0V865.5H575.5V867.5H577.0V882.5H578.0V887.5H579.0V880.5H580.0V873.5H581.0V864.5H582.0V869.5H583.0V879.5H584.0V887.5H585.0V882.5H586.0V871.5H587.0V864.5H588.0V871.5H588.5V878.5H590.0V887.5H590.5V885.5H591.5V876.5H592.5V866.5H593.0V864.5H594.0V868.5H595.0V880.5H596.0V887.5H597.0V884.5H598.0V869.5H599.0V864.5H600.0V869.5H600.5V876.5H601.5V885.5H602.0V887.5H602.5V885.5H603.5V874.5H604.5V868.5H605.0V864.5H606.0V867.5H606.5V876.5H607.0V881.5H608.0V887.5H609.0V883.5H609.5V876.5H610.0V869.5H611.0V864.5H612.0V870.5H612.5V876.5H613.0V881.5H614.0V887.5H615.0V880.5H615.5V874.5H617.0V864.5H618.0V870.5H619.0V879.5H620.0V886.5"/>
<path d="M139 1431 L276.0 1431 L276.0 1293 L550.7 1293 L550.7 1431 L907.5 1431 L907.5 1293 L1241 1293" stroke="#00f" stroke-width="6" fill="none" stroke-linejoin="miter"/>
<rect x="139" y="1426" width="5.5" height="3" fill="#00f"/>
<text class="lb" transform="translate(58,164.75) rotate(-90)" text-anchor="middle" >Gap (mm)</text>
<text class="lb" transform="translate(51,623) rotate(-90)" text-anchor="start" >a<tspan dx="0"> </tspan><tspan font-size="31" dy="16.6">E</tspan><tspan dy="-16.6" dx="-1.5" font-size="38.5"> (m/s</tspan><tspan font-size="30" dy="-17.8">2</tspan><tspan dy="17.8" font-size="38.5">)</tspan></text>
<text class="lb" transform="translate(49,917.35) rotate(-90)" text-anchor="middle" style="font-size:39px">B (T)</text>
<text class="lb" transform="translate(79.5,1296.35) rotate(-90)" text-anchor="middle" style="font-size:38.5px">Switch</text>
<text class="lb" x="683" y="1522" text-anchor="middle">Time(s)</text>
<line x1="995" y1="251" x2="1108" y2="251" stroke="#00f" stroke-width="2"/>
<text class="lb" x="1121" y="272" style="font-size:38px">δ</text><text class="lb" x="1152" y="267.5">(</text><text class="lb" x="1175.5" y="267.5">t</text><text class="lb" x="1198.5" y="267.5">)</text>
<line x1="966" y1="620" x2="1079" y2="620" stroke="#00f" stroke-width="2"/>
<text class="lb" x="1092" y="624.5">a</text><text class="lb" style="font-size:31px" x="1125.5" y="642">E</text><text class="lb" x="1152" y="624.5">(</text><text class="lb" x="1175.5" y="624.5">t</text><text class="lb" x="1198.5" y="624.5">)</text>
<line x1="989" y1="1007" x2="1102" y2="1007" stroke="#00f" stroke-width="2"/>
<text class="lb" x="1114" y="1019.5">B</text><text class="lb" x="1152" y="1019.5">(</text><text class="lb" x="1175.5" y="1019.5">t</text><text class="lb" x="1198.5" y="1019.5">)</text>
</svg></body></html>
